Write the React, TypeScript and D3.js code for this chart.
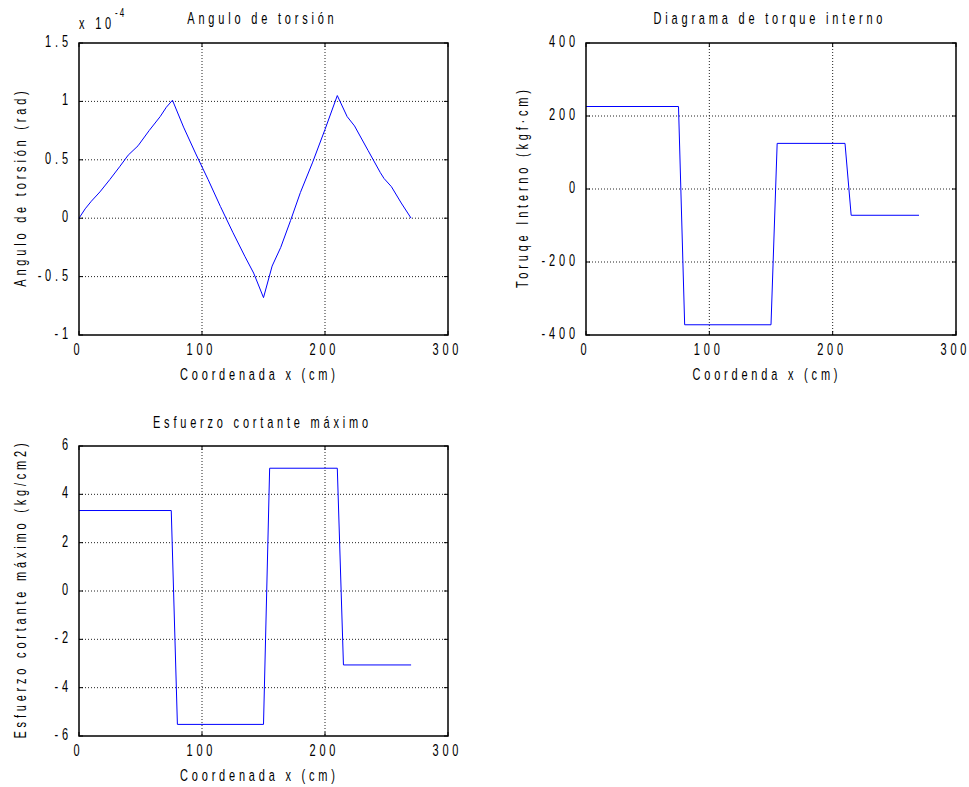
import React, { useEffect, useRef } from "react";
import * as d3 from "d3";

// angle of twist (x cm, value x 1e-4 rad)
const anguloX = [0, 5, 10, 17, 25, 33, 40, 48, 57, 66, 71, 76, 85, 95, 105, 115, 125, 135, 142, 150, 157, 164, 172, 180, 190, 200, 210, 218, 224, 235, 245, 248, 254, 262, 270];
const anguloY = [0, 0.08, 0.145, 0.225, 0.33, 0.44, 0.54, 0.62, 0.75, 0.87, 0.95, 1.01, 0.78, 0.55, 0.33, 0.1, -0.12, -0.33, -0.47, -0.68, -0.41, -0.25, -0.02, 0.22, 0.48, 0.76, 1.05, 0.87, 0.79, 0.58, 0.39, 0.34, 0.27, 0.13, 0];

// internal torque (kgf cm)
const torqueX = [0, 75, 80, 150, 155, 210, 215, 270];
const torqueY = [226, 226, -372, -372, 125, 125, -72, -72];

// max shear stress (kg/cm2)
const esfuerzoX = [0, 75, 80, 150, 155, 210, 215, 270];
const esfuerzoY = [3.33, 3.33, -5.52, -5.52, 5.08, 5.08, -3.06, -3.06];

const xTicks = [0, 100, 200, 300];
const anguloTicks = [-1, -0.5, 0, 0.5, 1, 1.5];
const torqueTicks = [-400, -200, 0, 200, 400];
const esfuerzoTicks = [-6, -4, -2, 0, 2, 4, 6];

const FONT = "'Liberation Sans', Arial, sans-serif";
const SPACING = 3.8;

const panels = [
  {
    box: [79, 448, 43, 335],
    yDomain: [-1, 1.5],
    yTicks: anguloTicks,
    xs: anguloX,
    ys: anguloY,
    title: "Angulo de torsión",
    titleY: 24,
    xLabel: "Coordenada x (cm)",
    yLabel: "Angulo de torsión (rad)",
    yLabelX: 26,
    exponent: true,
  },
  {
    box: [586, 956, 43, 335],
    yDomain: [-400, 400],
    yTicks: torqueTicks,
    xs: torqueX,
    ys: torqueY,
    title: "Diagrama de torque interno",
    titleY: 24,
    xLabel: "Coordenda x (cm)",
    yLabel: "Toruqe Interno (kgf·cm)",
    yLabelX: 528,
    exponent: false,
  },
  {
    box: [79, 448, 446, 736],
    yDomain: [-6, 6],
    yTicks: esfuerzoTicks,
    xs: esfuerzoX,
    ys: esfuerzoY,
    title: "Esfuerzo cortante máximo",
    titleY: 428,
    xLabel: "Coordenada x (cm)",
    yLabel: "Esfuerzo cortante máximo (kg/cm2)",
    yLabelX: 26,
    exponent: false,
  },
];

// tall, narrow, spaced-out text like the old plot fonts
function addText(g: any, x: number, y: number, txt: string, anchor: string, rotate = 0, size = 11, spacing = SPACING) {
  const dx = anchor === "middle" ? spacing / 2 : anchor === "end" ? spacing : 0;
  const holder = g
    .append("g")
    .attr("transform", "translate(" + x + "," + y + ") rotate(" + rotate + ") scale(1,1.5)");
  holder
    .append("text")
    .attr("x", dx)
    .attr("y", 0)
    .attr("text-anchor", anchor)
    .attr("font-family", FONT)
    .attr("font-size", size)
    .attr("letter-spacing", spacing + "px")
    .attr("fill", "#000")
    .text(txt);
  return holder;
}

export default function App() {
  const ref = useRef<SVGSVGElement>(null);

  useEffect(() => {
    const svg = d3.select(ref.current);
    svg.selectAll("*").remove();

    panels.forEach((p) => {
      const [l, r, t, b] = p.box;
      const x = d3.scaleLinear().domain([0, 300]).range([l, r]);
      const y = d3.scaleLinear().domain(p.yDomain).range([b, t]);
      const g = svg.append("g");

      // grid
      xTicks.slice(1, -1).forEach((v) => {
        g.append("line")
          .attr("x1", x(v)).attr("x2", x(v))
          .attr("y1", t).attr("y2", b)
          .attr("stroke", "#222").attr("stroke-width", 1)
          .attr("stroke-dasharray", "1,2");
      });
      p.yTicks.slice(1, -1).forEach((v) => {
        g.append("line")
          .attr("x1", l).attr("x2", r)
          .attr("y1", y(v)).attr("y2", y(v))
          .attr("stroke", "#222").attr("stroke-width", 1)
          .attr("stroke-dasharray", "1,2");
      });

      // inward ticks + labels
      xTicks.forEach((v) => {
        g.append("line").attr("x1", x(v)).attr("x2", x(v)).attr("y1", b).attr("y2", b - 4).attr("stroke", "#000");
        g.append("line").attr("x1", x(v)).attr("x2", x(v)).attr("y1", t).attr("y2", t + 4).attr("stroke", "#000");
        addText(g, x(v) - 2.5, b + 20, String(v), "middle");
      });
      p.yTicks.forEach((v) => {
        g.append("line").attr("x1", l).attr("x2", l + 4).attr("y1", y(v)).attr("y2", y(v)).attr("stroke", "#000");
        g.append("line").attr("x1", r).attr("x2", r - 4).attr("y1", y(v)).attr("y2", y(v)).attr("stroke", "#000");
        addText(g, l - 11, y(v) + 4, String(v), "end");
      });

      // data line
      const line = d3
        .line<number>()
        .x((d, i) => x(p.xs[i]))
        .y((d) => y(d));
      g.append("path")
        .attr("d", line(p.ys))
        .attr("fill", "none")
        .attr("stroke", "#0000ff")
        .attr("stroke-width", 1);

      // box
      g.append("rect")
        .attr("x", l).attr("y", t)
        .attr("width", r - l).attr("height", b - t)
        .attr("fill", "none").attr("stroke", "#000").attr("stroke-width", 1.5);

      // labels
      addText(g, (l + r) / 2 - 3, p.titleY, p.title, "middle");
      addText(g, (l + r) / 2 - 6, b + 45, p.xLabel, "middle");
      addText(g, p.yLabelX, (t + b) / 2, p.yLabel, "middle", -90);

      if (p.exponent) {
        addText(g, l, 29, "x 10", "start");
        addText(g, l + 36, 17, "-4", "start", 0, 8, 2);
      }
    });
  }, []);

  return (
    <svg
      ref={ref}
      width={969}
      height={787}
      style={{ position: "absolute", left: 0, top: 0, background: "#fff" }}
    />
  );
}
